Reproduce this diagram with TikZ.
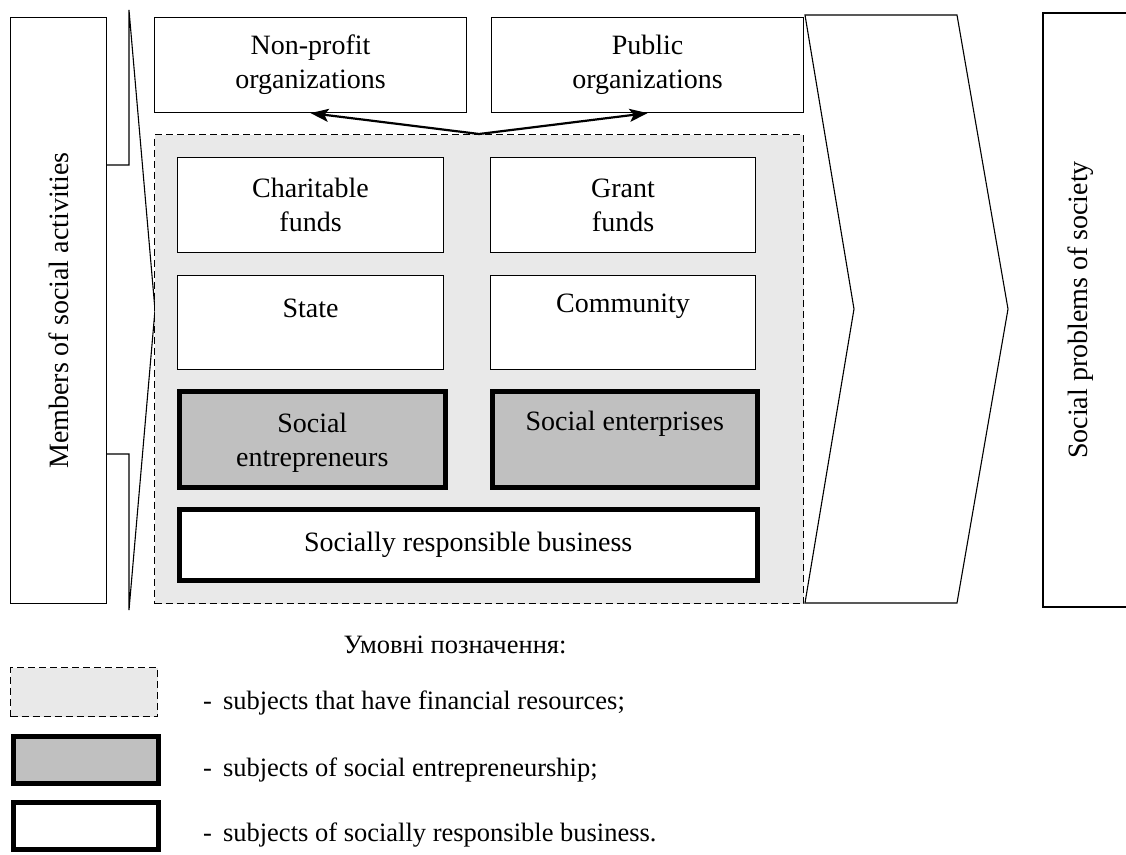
\documentclass[tikz,border=0pt]{standalone}
\usepackage{fontspec}
\setmainfont{Liberation Serif}
\usetikzlibrary{arrows.meta}
\definecolor{lightfill}{RGB}{233,233,233}
\definecolor{midfill}{RGB}{192,192,192}
\begin{document}
\begin{tikzpicture}[x=1pt,y=-1pt,
  thin/.style={draw, line width=1.1pt},
  box/.style={thin, fill=white, inner sep=0pt, anchor=north west, align=center},
  finbox/.style={draw, dashed, dash pattern=on 7pt off 4pt, line width=1.1pt, fill=lightfill,
    inner sep=0pt, anchor=north west},
  sebox/.style={box, line width=4.5pt, fill=midfill},
  srbox/.style={box, line width=4.5pt, fill=white},
  lbl/.style={align=center, font=\fontsize{28}{34}\selectfont, inner sep=0pt},
  leg/.style={anchor=west, inner sep=0pt, font=\fontsize{26.5}{31}\selectfont},
  arr/.style={line width=2.2pt, -{Stealth[length=18pt,width=13pt,inset=4pt]}}]
\useasboundingbox (0,0) rectangle (1126,854);

% left member box and its wedge
\node[box, minimum width=96, minimum height=586] (lb) at (10,17) {};
\node[lbl, rotate=90] (lbt) at (lb.center) {Members of social activities};
\coordinate (wtop) at (129,10);
\coordinate (wtip) at (155,310);
\coordinate (wbot) at (129,610);
\draw[thin] (lb.east |- 0,165) -- (wtop |- 0,165) -- (wtop) -- (wtip) -- (wbot)
  -- (wbot |- 0,454) -- (lb.east |- 0,454);

% top organisations
\node[box, minimum width=312, minimum height=95] (np) at (154,17) {};
\node[lbl] at (np.center) {Non-profit\\organizations};
\node[box, minimum width=312, minimum height=95] (pub) at (491,17) {};
\node[lbl] at (pub.center) {Public\\organizations};

% financial resources area
\node[finbox, minimum width=649, minimum height=469] (ds) at (154,134) {};

\node[box, minimum width=266, minimum height=95] (cf) at (177,157) {};
\node[lbl] at (cf.center) {Charitable\\funds};
\node[box, minimum width=265, minimum height=95] (gf) at (490,157) {};
\node[lbl] at (gf.center) {Grant\\funds};

\node[box, minimum width=266, minimum height=94] (st) at (177,275) {};
\node[lbl] at ([yshift=-33]st.north) {State};
\node[box, minimum width=265, minimum height=94] (cm) at (490,275) {};
\node[lbl] at ([yshift=-31]cm.north) {Community};

\node[sebox, minimum width=266, minimum height=96] (se) at (177,389) {};
\node[lbl] at ([yshift=-4]se.center) {Social\\entrepreneurs};
\node[sebox, minimum width=265, minimum height=96] (sent) at (490,389) {};
\node[lbl] at ([yshift=-35]sent.north) {Social enterprises};

\node[srbox, minimum width=578, minimum height=71] (srb) at (177,507) {};
\node[lbl] at (srb.center) {Socially responsible business};

\draw[arr] (ds.north) -- (np.south);
\draw[arr] (ds.north) -- (pub.south);

% big chevron
\coordinate (c1) at (805,15);
\coordinate (c2) at (957,15);
\coordinate (c3) at (1008,309);
\coordinate (c4) at (957,603);
\coordinate (c5) at (805,603);
\coordinate (c6) at (854,309);
\draw[thin, line join=miter] (c1) -- (c2) -- (c3) -- (c4) -- (c5) -- (c6) -- cycle;

% right box (cut at the page edge)
\coordinate (r1) at (1126,13);
\coordinate (r2) at (1043,13);
\coordinate (r3) at (1043,607);
\coordinate (r4) at (1126,607);
\draw[thin] (r1) -- (r2) -- (r3) -- (r4);
\node[lbl, rotate=90] (rbt) at (1081,310) {Social problems of society};

% legend
\node[inner sep=0pt, font=\fontsize{26.5}{31}\selectfont] (lt) at (455,645) {Умовні позначення:};
\node[finbox, minimum width=147, minimum height=49] (l1) at (10,667) {};
\node[leg] (l1t) at (203,703) {-\, subjects that have financial resources;};
\node[sebox, minimum width=145, minimum height=47] (l2) at (11,734) {};
\node[leg] (l2t) at (203,770) {-\, subjects of social entrepreneurship;};
\node[srbox, minimum width=145, minimum height=47] (l3) at (11,800) {};
\node[leg] (l3t) at (203,835) {-\, subjects of socially responsible business.};
\end{tikzpicture}
\end{document}
